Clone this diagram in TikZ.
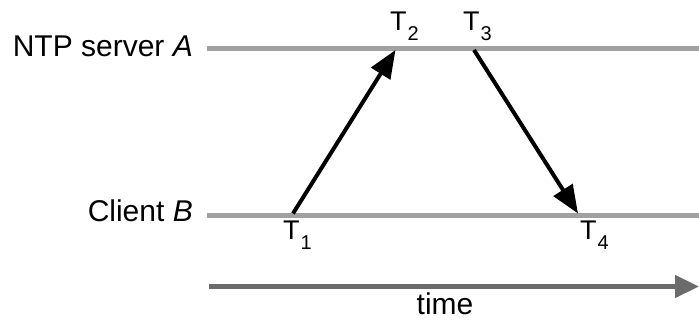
\documentclass[tikz,border=0pt]{standalone}
\usepackage{fontspec}
\setmainfont{Liberation Sans}
\usetikzlibrary{arrows.meta}
\newcommand{\Tsub}[1]{\fontsize{27}{27}\selectfont T\kern1pt\raisebox{-10pt}{\fontsize{20}{20}\selectfont #1}}
\begin{document}
\begin{tikzpicture}[x=1pt,y=-1pt,
  lane/.style={line width=4.5pt,draw=black!37},
  msg/.style={line width=4pt,draw=black,-{Triangle[length=28pt,width=22pt]}},
  timearrow/.style={line width=4.5pt,draw=black!58,-{Triangle[length=24pt,width=22pt]}},
  lbl/.style={font=\fontsize{30}{30}\selectfont,inner sep=0pt},
  tlbl/.style={inner sep=0pt,anchor=base west}]
\useasboundingbox (0,0) rectangle (699,320);
% lanes
\coordinate (sL) at (207,48.3);
\coordinate (sR) at (699,48.3);
\coordinate (cL) at (207,215.5);
\coordinate (cR) at (699,215.5);
\draw[lane] (sL) -- (sR);
\draw[lane] (cL) -- (cR);
% lane labels
\node[lbl,anchor=base east] (srv) at (193,57) {NTP server \textit{A}};
\node[lbl,anchor=base east] (cli) at (193,222) {Client \textit{B}};
% events
\coordinate (t1) at (293,213.5);
\coordinate (t2) at (395.5,50);
\coordinate (t3) at (474,50);
\coordinate (t4) at (578,213.5);
\draw[msg] (t1) -- (t2);
\draw[msg] (t3) -- (t4);
% event labels
\node[tlbl] (l1) at (283,240) {\Tsub{1}};
\node[tlbl] (l2) at (390,30.5) {\Tsub{2}};
\node[tlbl] (l3) at (463,30.5) {\Tsub{3}};
\node[tlbl] (l4) at (580,240) {\Tsub{4}};
% time axis
\coordinate (a0) at (209,286.5);
\coordinate (a1) at (699,286.5);
\draw[timearrow] (a0) -- (a1);
\node[lbl,anchor=base] (time) at (445,315) {time};
\end{tikzpicture}
\end{document}
